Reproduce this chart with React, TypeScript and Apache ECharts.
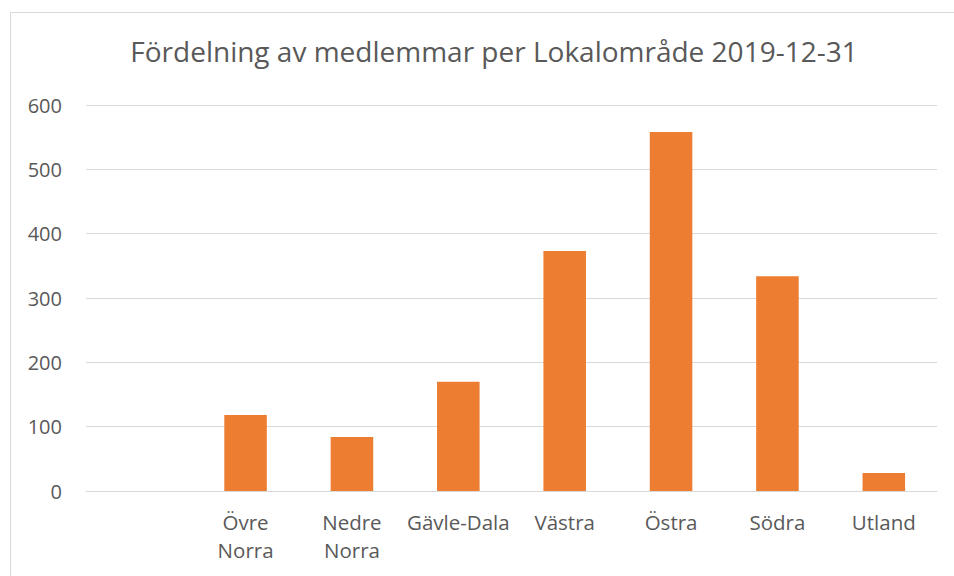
import React, { useEffect, useRef } from "react";
import * as echarts from "echarts";

const categories = ["", "Övre\nNorra", "Nedre\nNorra", "Gävle-Dala", "Västra", "Östra", "Södra", "Utland"];
const members = [null, 118, 84, 170, 373, 558, 334, 28];
const titleText = "Fördelning av medlemmar per Lokalområde 2019-12-31";

export default function App() {
  const ref = useRef<HTMLDivElement>(null);
  useEffect(() => {
    document.body.style.margin = "0";
    const chart = echarts.init(ref.current!, null, { renderer: "svg" });
    chart.setOption({
      animation: false,
      backgroundColor: "#ffffff",
      title: {
        text: titleText,
        left: 489,
        textAlign: "center",
        top: 32,
        textStyle: { fontFamily: "Open Sans", fontSize: 28, fontWeight: "normal", color: "#595959" },
      },
      graphic: [
        {
          type: "rect",
          shape: { x: 10.5, y: 12.5, width: 960, height: 600 },
          style: { fill: "none", stroke: "#d9d9d9", lineWidth: 1 },
          silent: true,
          z: -1,
        },
      ],
      grid: { left: 86, right: 17, top: 105, bottom: 85, containLabel: false },
      xAxis: {
        type: "category",
        data: categories,
        axisLine: { show: true, lineStyle: { color: "#d9d9d9", width: 1 } },
        axisTick: { show: false },
        axisLabel: {
          interval: 0,
          margin: 17,
          fontFamily: "Open Sans",
          fontSize: 20.5,
          lineHeight: 28,
          color: "#595959",
        },
      },
      yAxis: {
        type: "value",
        min: 0,
        max: 600,
        interval: 100,
        axisLine: { show: false },
        axisTick: { show: false },
        splitLine: { lineStyle: { color: "#d9d9d9", width: 1 } },
        axisLabel: { margin: 24, fontFamily: "Open Sans", fontSize: 20, color: "#595959" },
      },
      series: [
        {
          type: "bar",
          data: members,
          barWidth: "40%",
          itemStyle: { color: "#ED7D31" },
        },
      ],
    });
    return () => chart.dispose();
  }, []);
  return <div ref={ref} style={{ position: "absolute", left: 0, top: 0, width: 954, height: 576 }} />;
}
